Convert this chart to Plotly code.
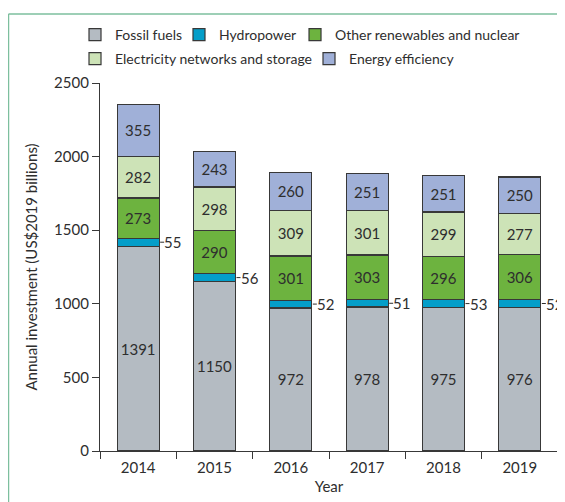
import plotly.graph_objects as go

years = ['2014', '2015', '2016', '2017', '2018', '2019']
fossil = [1391, 1150, 972, 978, 975, 976]
hydro = [55, 56, 52, 51, 53, 52]
other_renew = [273, 290, 301, 303, 296, 306]
networks = [282, 298, 309, 301, 299, 277]
efficiency = [355, 243, 260, 251, 251, 250]

# name, values, colour, label inside?
series = [
    ('Fossil fuels', fossil, '#b4bbc2', True),
    ('Hydropower', hydro, '#049ec9', False),
    ('Other renewables and nuclear', other_renew, '#6db33f', True),
    ('Electricity networks and storage', networks, '#cde3b7', True),
    ('Energy efficiency', efficiency, '#a0b0d8', True),
]
# one small legend per entry so the two rows flow like the original
legend_pos = [(0.1203, 0.9453), (0.3070, 0.9453), (0.5153, 0.9453),
              (0.1203, 0.8968), (0.5404, 0.8968)]

font_name = 'Lato'
dark = '#2e2e2e'

fig = go.Figure()
for k, (name, vals, col, show_text) in enumerate(series):
    leg = 'legend' if k == 0 else 'legend%d' % (k + 1)
    fig.add_trace(go.Bar(
        x=years, y=vals, name=name, width=0.55, legend=leg,
        marker=dict(color=col, line=dict(color='#383838', width=1.2)),
        text=[str(v) for v in vals] if show_text else None,
        textposition='inside' if show_text else 'none',
        insidetextanchor='middle',
        textfont=dict(family=font_name, size=15, color=dark),
        hoverinfo='name+y',
    ))

# hydropower values sit outside the bars, joined by a short leader line
for i, (f, h) in enumerate(zip(fossil, hydro)):
    fig.add_annotation(
        x=i, y=f + h / 2, text=str(h), showarrow=True,
        arrowhead=0, arrowwidth=1, arrowcolor=dark,
        ax=4, ay=0, xanchor='left', yanchor='middle',
        xshift=22, borderpad=0, borderwidth=0,
        font=dict(family=font_name, size=15, color=dark),
    )

# green frame at the left/top of the picture
frame = '#7dbf9e'
fig.add_shape(type='line', xref='paper', yref='paper',
              x0=-0.1998, x1=-0.1998, y0=1.1875, y1=-0.15,
              line=dict(color=frame, width=1.5))
fig.add_shape(type='line', xref='paper', yref='paper',
              x0=-0.1998, x1=1.05, y0=1.1875, y1=1.1875,
              line=dict(color=frame, width=1.5))

legends = {}
for k, (lx, ly) in enumerate(legend_pos):
    key = 'legend' if k == 0 else 'legend%d' % (k + 1)
    legends[key] = dict(
        x=lx, y=ly, orientation='h', xanchor='left', yanchor='middle',
        xref='container', yref='container',
        font=dict(family=font_name, size=14, color=dark),
        bgcolor='rgba(0,0,0,0)',
    )

# page body adds an 8px offset, so the figure is 8px smaller each way
fig.update_layout(
    barmode='stack',
    width=557, height=494,
    margin=dict(l=92, r=7, t=75, b=51),
    plot_bgcolor='white', paper_bgcolor='white',
    font=dict(family=font_name, size=15, color=dark),
    showlegend=True,
    **legends,
)
fig.update_xaxes(
    type='category', range=[-0.5, 5.5], automargin=False,
    showline=True, linecolor='#383838', linewidth=1.2,
    ticks='outside', tickson='boundaries', ticklen=7, tickcolor='#383838',
    ticklabelstandoff=3,
    title=dict(text='Year', standoff=6, font=dict(size=15)), showgrid=False,
    tickfont=dict(size=15, color=dark),
)
fig.update_yaxes(
    range=[0, 2500], tickvals=[0, 500, 1000, 1500, 2000, 2500],
    automargin=False,
    showline=True, linecolor='#383838', linewidth=1.2,
    ticks='outside', ticklen=7, tickcolor='#383838', showgrid=False,
    zeroline=False,
    title=dict(text='Annual investment (US$2019 billions)', standoff=12,
               font=dict(size=15)),
    tickfont=dict(size=15, color=dark),
)

fig.write_html('out.html')
